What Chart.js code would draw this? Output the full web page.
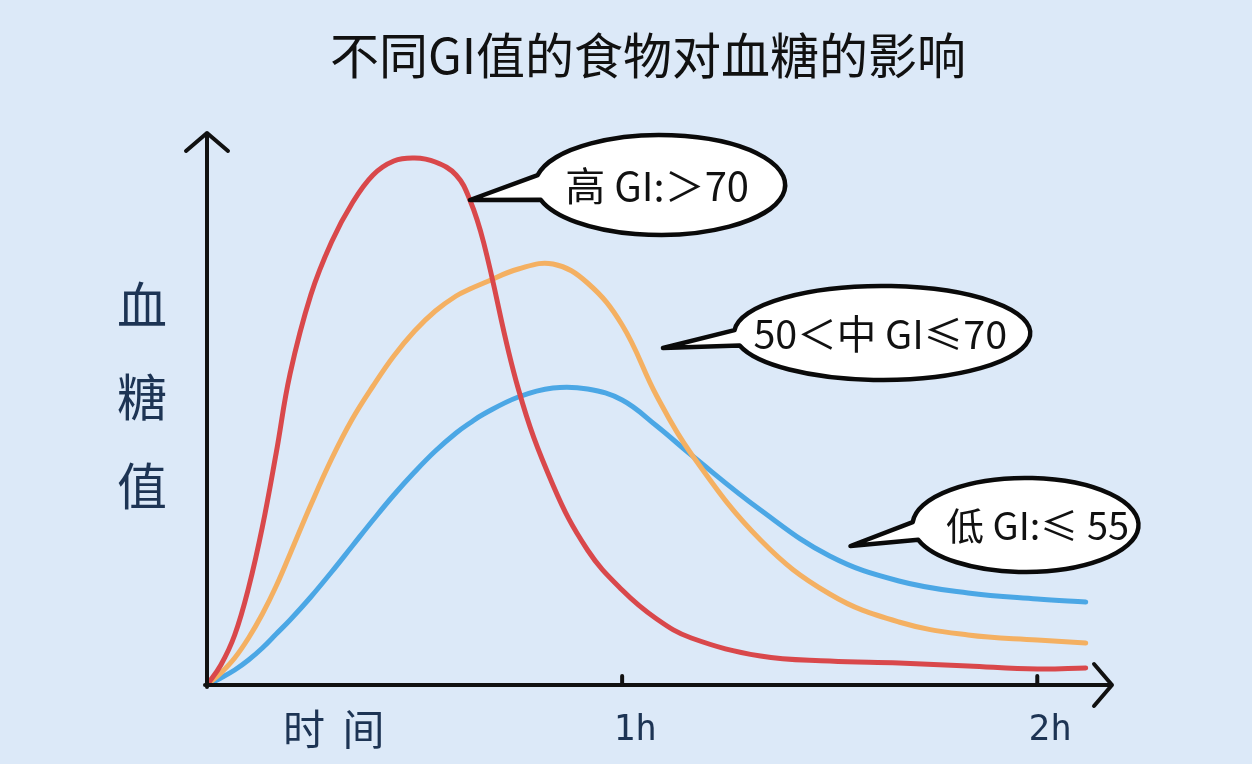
<!DOCTYPE html>
<html>
<head>
<meta charset="utf-8">
<script src="https://cdn.jsdelivr.net/npm/chart.js@4/dist/chart.umd.min.js"></script>
<style>
  html, body { margin: 0; padding: 0; background: #dce9f8; }
  #wrap { width: 1252px; height: 764px; }
</style>
</head>
<body>
<div id="wrap"><canvas id="c" width="1252" height="764"></canvas></div>
<script>
// ---- data (time in minutes, blood-glucose in relative units) ----
const timeMinutes = [0, 2, 4, 6, 8, 10, 12, 15, 18, 21, 24, 27, 30, 33, 36, 38, 40, 45, 50, 55, 60, 65, 70, 80, 90, 100, 110, 120, 127];
const highGI   = [0, 20, 50, 97, 158, 232, 311, 390, 443, 482, 510, 524, 527, 523, 510, 485, 442, 296, 200, 135, 95, 66, 47, 29, 24, 22, 19, 16, 17];
const mediumGI = [0, 12, 27, 47, 71, 99, 131, 180, 226, 266, 299, 329, 354, 374, 389, 396, 402, 416, 421, 402, 360, 289, 231, 145, 91, 63, 50, 45, 42];
const lowGI    = [0, 7, 15, 25, 37, 51, 65, 88, 113, 139, 165, 190, 213, 234, 252, 262, 271, 288, 297, 296, 285, 259, 230, 175, 129, 104, 92, 86, 83];
const seriesNames = ['高 GI:＞70', '50＜中 GI≤70', '低 GI:≤ 55'];
const xTickValues = [60, 120];
const xTickLabels = ['1h', '2h'];
const chartTitle = '不同GI值的食物对血糖的影响';
const yAxisTitle = ['血', '糖', '值'];
const xAxisTitle = '时 间';
// bubble anchors (data units): centre and tail tip
const bubbleCentres = [[65.5, 500], [97.6, 352], [118.3, 160]];
const bubbleTips    = [[38, 485], [65.9, 337], [93, 139]];

const toPts = (vals) => vals.map((v, i) => ({ x: timeMinutes[i], y: v }));

const NAVY = '#1d3454';
const CJK = '"Noto Sans CJK SC", "Noto Sans", sans-serif';

// bubble styles (pixels)
const bubbleStyle = [
  { rx: 125, ry: 50, gapTop: 0.2, gapBottom: 0.3, font: '40px ' + CJK, dx: -3 },
  { rx: 148, ry: 47, gapTop: 0.06, gapBottom: 0.27, font: '39.5px ' + CJK, dx: -2 },
  { rx: 113, ry: 47, gapTop: 0.06, gapBottom: 0.32, font: '38px ' + CJK, dx: 12 }
];

const decor = {
  id: 'decor',
  beforeDraw(chart) {
    const ctx = chart.ctx;
    ctx.save();
    ctx.fillStyle = '#dce9f8';
    ctx.fillRect(0, 0, chart.width, chart.height);
    ctx.restore();
  },
  afterDatasetsDraw(chart) {
    const ctx = chart.ctx;
    const xs = chart.scales.x, ys = chart.scales.y;
    const x0 = xs.getPixelForValue(0), y0 = ys.getPixelForValue(0);
    const xEnd = xs.getPixelForValue(xs.max), yTop = ys.getPixelForValue(ys.max);
    ctx.save();
    ctx.strokeStyle = '#111';
    ctx.lineWidth = 4;
    ctx.lineCap = 'round';
    ctx.lineJoin = 'round';
    // y axis + arrow
    ctx.beginPath();
    ctx.moveTo(x0, y0 + 2); ctx.lineTo(x0, yTop);
    ctx.moveTo(x0 - 21, yTop + 18); ctx.lineTo(x0, yTop); ctx.lineTo(x0 + 21, yTop + 18);
    ctx.stroke();
    // x axis + arrow
    ctx.beginPath();
    ctx.moveTo(x0 - 2, y0); ctx.lineTo(xEnd, y0);
    ctx.moveTo(xEnd - 18, y0 - 21); ctx.lineTo(xEnd, y0); ctx.lineTo(xEnd - 18, y0 + 21);
    ctx.stroke();
    // tick bumps
    xTickValues.forEach(v => {
      const px = xs.getPixelForValue(v);
      ctx.beginPath(); ctx.moveTo(px, y0); ctx.lineTo(px, y0 - 9); ctx.stroke();
    });
    // tick labels
    ctx.fillStyle = NAVY;
    ctx.textAlign = 'center';
    ctx.textBaseline = 'middle';
    ctx.font = '36px "DejaVu Sans Mono", monospace';
    xTickValues.forEach((v, i) => {
      ctx.fillText(xTickLabels[i], xs.getPixelForValue(v) + 13, y0 + 46);
    });
    // axis titles
    ctx.font = '42px ' + CJK;
    ctx.textAlign = 'left';
    if ('letterSpacing' in ctx) ctx.letterSpacing = '4px';
    ctx.fillText(xAxisTitle, x0 + 76, y0 + 44);
    if ('letterSpacing' in ctx) ctx.letterSpacing = '0px';
    ctx.textAlign = 'center';
    ctx.font = '50px ' + CJK;
    const yc = [305, 397, 486];
    yAxisTitle.forEach((ch, i) => ctx.fillText(ch, 142, yc[i]));
    // title
    ctx.fillStyle = '#111';
    ctx.font = '49px ' + CJK;
    ctx.fillText(chartTitle, 648, 55);
    // bubbles
    bubbleCentres.forEach((c, i) => {
      const st = bubbleStyle[i];
      const cx = xs.getPixelForValue(c[0]), cy = ys.getPixelForValue(c[1]);
      const tx = xs.getPixelForValue(bubbleTips[i][0]), ty = ys.getPixelForValue(bubbleTips[i][1]);
      ctx.beginPath();
      ctx.ellipse(cx, cy, st.rx, st.ry, 0, Math.PI + st.gapTop, 3 * Math.PI - st.gapBottom, false);
      ctx.lineTo(tx, ty);
      ctx.closePath();
      ctx.fillStyle = '#ffffff';
      ctx.fill();
      ctx.lineWidth = 4.5;
      ctx.strokeStyle = '#0a0a0a';
      ctx.stroke();
      ctx.fillStyle = '#111';
      ctx.font = st.font;
      ctx.fillText(seriesNames[i], cx + st.dx, cy + 1);
    });
    ctx.restore();
  }
};

new Chart(document.getElementById('c'), {
  type: 'line',
  data: {
    datasets: [
      { label: seriesNames[0], data: toPts(highGI), borderColor: '#d9484b', borderWidth: 5 },
      { label: seriesNames[1], data: toPts(mediumGI), borderColor: '#f4b062', borderWidth: 5 },
      { label: seriesNames[2], data: toPts(lowGI), borderColor: '#4ba7e5', borderWidth: 5 }
    ]
  },
  options: {
    responsive: false,
    animation: false,
    layout: { padding: { left: 207, right: 140, top: 133, bottom: 79 } },
    elements: { point: { radius: 0 }, line: { tension: 0.4, capBezierPoints: true, borderCapStyle: 'round' } },
    scales: {
      x: { type: 'linear', min: 0, max: 130.8, display: false },
      y: { type: 'linear', min: 0, max: 552, display: false }
    },
    plugins: { legend: { display: false }, tooltip: { enabled: false }, title: { display: false } }
  },
  plugins: [decor]
});
</script>
</body>
</html>
